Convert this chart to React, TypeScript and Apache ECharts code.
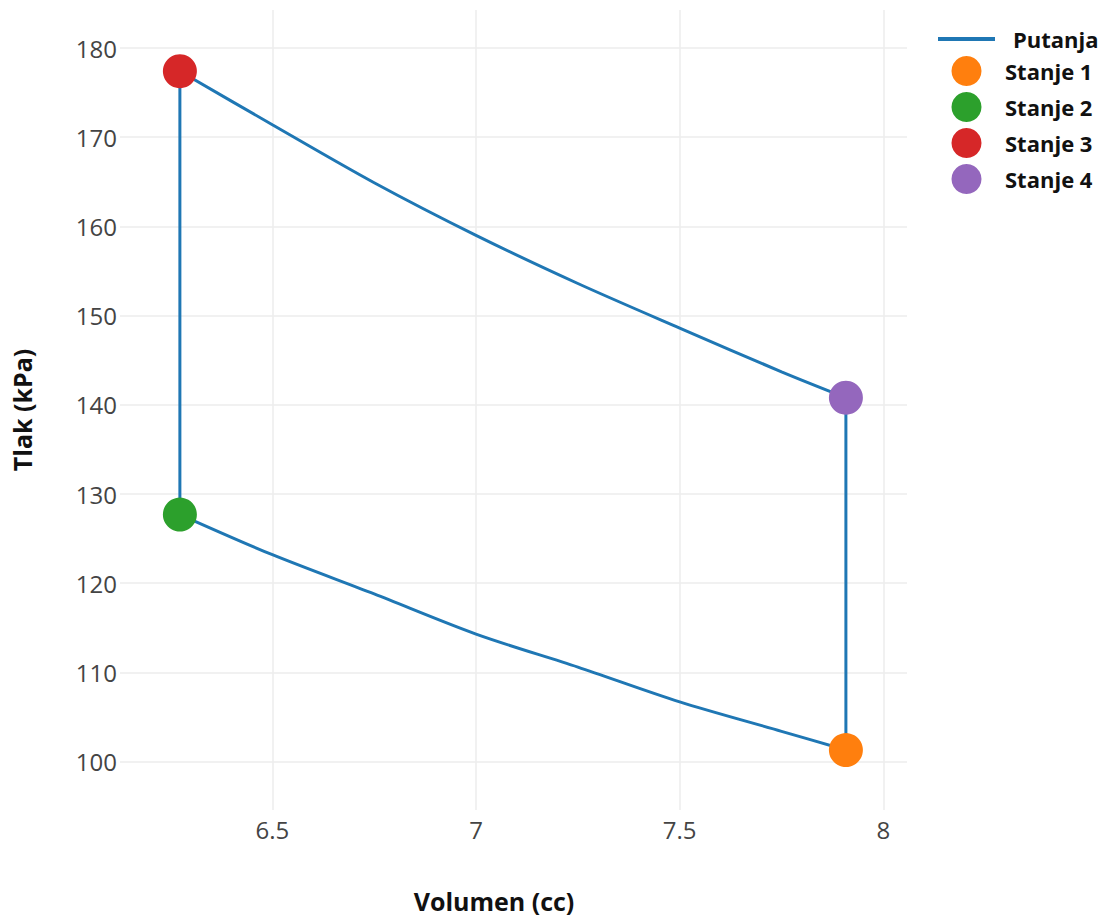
import { useEffect, useRef } from 'react';
import * as echarts from 'echarts';

// Cycle path (Putanja): 1 -> 2 (lower curve), 2 -> 3, 3 -> 4 (upper curve), 4 -> 1
const lowerV = [7.908, 7.75, 7.5, 7.25, 7.0, 6.75, 6.5, 6.273];
const lowerP = [101.3, 103.4, 106.7, 110.6, 114.3, 118.8, 123.2, 127.7];
const upperV = [6.273, 6.5, 6.75, 7.0, 7.25, 7.5, 7.75, 7.908];
const upperP = [177.4, 171.4, 164.9, 159.0, 153.6, 148.6, 143.7, 140.8];

const stateNames = ['Stanje 1', 'Stanje 2', 'Stanje 3', 'Stanje 4'];
const stateV = [7.908, 6.273, 6.273, 7.908];
const stateP = [101.3, 127.7, 177.4, 140.8];
const stateColors = ['#ff7f0e', '#2ca02c', '#d62728', '#9467bd'];

const xTicks = [6.5, 7, 7.5, 8];
const yTicks = [100, 110, 120, 130, 140, 150, 160, 170, 180];

const lineName = 'Putanja';
const lineColor = '#1f77b4';

export default function App() {
  const ref = useRef<HTMLDivElement>(null);
  useEffect(() => {
    const chart = echarts.init(ref.current!, null, { renderer: 'svg' });
    const font = 'Open Sans';
    const lineBase = {
      name: lineName,
      type: 'line',
      symbol: 'none',
      lineStyle: { color: lineColor, width: 3 },
      itemStyle: { color: lineColor },
      z: 2,
    };
    const series: any[] = [
      { ...lineBase, data: lowerV.map((v, i) => [v, lowerP[i]]), smooth: 0.3 },
      { ...lineBase, data: [[stateV[1], stateP[1]], [stateV[2], stateP[2]]] },
      { ...lineBase, data: upperV.map((v, i) => [v, upperP[i]]), smooth: 0.3 },
      { ...lineBase, data: [[stateV[3], stateP[3]], [stateV[0], stateP[0]]] },
      ...stateNames.map((n, i) => ({
        name: n,
        type: 'scatter',
        data: [[stateV[i], stateP[i]]],
        symbol: 'circle',
        symbolSize: 34,
        itemStyle: { color: stateColors[i], opacity: 1 },
        z: 3,
      })),
    ];
    const rich = {
      p: { fontFamily: font, fontWeight: 'bold', fontSize: 22, color: '#111', padding: [0, 0, 0, 13] },
      s: { fontFamily: font, fontWeight: 'bold', fontSize: 22, color: '#111', padding: [0, 0, 0, 5] },
    };
    chart.setOption({
      animation: false,
      backgroundColor: '#fff',
      grid: { left: 120, right: 194, top: 10, bottom: 110 },
      legend: {
        orient: 'vertical',
        left: 933,
        top: 23,
        itemWidth: 57,
        itemHeight: 30,
        itemGap: 6,
        symbolKeepAspect: true,
        data: [
          { name: lineName, icon: 'path://M0,0H57V4H0Z', itemStyle: { color: lineColor } },
          ...stateNames.map((n) => ({ name: n, icon: 'circle' })),
        ],
        formatter: (name: string) => (name === lineName ? `{p|${name}}` : `{s|${name}}`),
        textStyle: {
          fontFamily: font,
          fontWeight: 'bold',
          fontSize: 22,
          color: '#111',
          rich,
        },
      },
      xAxis: {
        type: 'value',
        min: 6.126,
        max: 8.058,
        axisLine: { show: false },
        axisTick: { show: false, customValues: xTicks },
        axisLabel: {
          customValues: xTicks,
          fontFamily: font,
          fontSize: 24,
          color: '#444',
          margin: 7,
        },
        splitLine: { show: true, lineStyle: { color: '#ececec', width: 1.5 } },
        name: 'Volumen (cc)',
        nameLocation: 'middle',
        nameGap: 78,
        nameTextStyle: { fontFamily: font, fontWeight: 'bold', fontSize: 25, color: '#111', padding: [0, 39, 0, 0] },
      },
      yAxis: {
        type: 'value',
        min: 94.58,
        max: 184.26,
        axisLine: { show: false },
        axisTick: { show: false, customValues: yTicks },
        axisLabel: {
          customValues: yTicks,
          fontFamily: font,
          fontSize: 24,
          color: '#444',
          margin: 3,
        },
        splitLine: { show: true, lineStyle: { color: '#ececec', width: 1.5 } },
        name: 'Tlak (kPa)',
        nameLocation: 'middle',
        nameRotate: 90,
        nameGap: 86,
        nameTextStyle: { fontFamily: font, fontWeight: 'bold', fontSize: 25, color: '#111' },
      },
      series,
    });
    return () => chart.dispose();
  }, []);
  return <div ref={ref} style={{ position: 'absolute', left: 0, top: 0, width: 1101, height: 920 }} />;
}
